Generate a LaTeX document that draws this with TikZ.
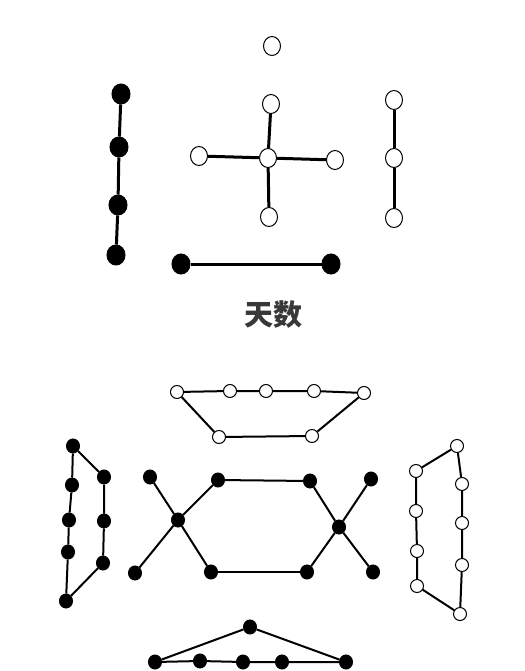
\documentclass[tikz,border=0pt]{standalone}
\usepackage{fontspec}
\newfontfamily\cjk{Noto Sans CJK SC}
\usetikzlibrary{shapes.geometric}
\definecolor{txtgray}{HTML}{383838}
\begin{document}
\begin{tikzpicture}[x=1pt, y=-1pt, line width=3pt,
	blk/.style = {draw, ellipse, fill=black, inner sep=0pt, line width=1pt, minimum width=18pt, minimum height=20pt},
	wht/.style = {draw, ellipse, fill=white, inner sep=0pt, line width=1pt, minimum width=17pt, minimum height=19pt},
	sblk/.style = {blk, minimum width=13pt, minimum height=14pt},
	swht/.style = {wht, minimum width=13pt, minimum height=13pt}]
		\useasboundingbox (0,0) rectangle (524,671);
		
		% top half
		\node[wht] (0) at (272,46) {};
		
		\node[blk] (1) at (121,94) {};
		\node[blk] (2) at (119,147) {};
		\node[blk] (3) at (118,205) {};
		\node[blk] (4) at (116,255) {};
		
		\node[wht] (5) at (271,104) {};
		\node[wht] (6) at (268,158) {};
		\node[wht] (7) at (199,156) {};
		\node[wht] (8) at (335,160) {};
		\node[wht] (9) at (269,217) {};
		
		\node[wht] (10) at (394,100) {};
		\node[wht] (11) at (394,158) {};
		\node[wht] (12) at (394,218) {};
		
		\node[blk] (13) at (181,264) {};
		\node[blk] (14) at (331,264) {};
		
		\node[text=txtgray, font=\cjk\bfseries\fontsize{29}{30}\selectfont] (title) at (273,315) {天数};
		
		\draw (1) -- (2);
		\draw (2) -- (3);
		\draw (3) -- (4);
		
		\draw (5) -- (6);
		\draw (6) -- (9);
		\draw (7) -- (6);
		\draw (6) -- (8);
		
		\draw (10) -- (11);
		\draw (11) -- (12);
		
		\draw (13) -- (14);
		
		% bottom half
		\begin{scope}[line width=2pt]
		\node[swht] (20) at (177,392) {};
		\node[swht] (21) at (230,391) {};
		\node[swht] (22) at (266,391) {};
		\node[swht] (23) at (314,391) {};
		\node[swht] (24) at (364,393) {};
		\node[swht] (25) at (219,437) {};
		\node[swht] (26) at (312,436) {};
		
		\node[sblk] (30) at (73,446) {};
		\node[sblk] (31) at (72,485) {};
		\node[sblk] (32) at (69,520) {};
		\node[sblk] (33) at (68,552) {};
		\node[sblk] (34) at (66,601) {};
		\node[sblk] (35) at (104,477) {};
		\node[sblk] (36) at (104,521) {};
		\node[sblk] (37) at (103,563) {};
		
		\node[sblk] (40) at (150,477) {};
		\node[sblk] (41) at (178,520) {};
		\node[sblk] (42) at (135,573) {};
		\node[sblk] (43) at (218,480) {};
		\node[sblk] (44) at (211,572) {};
		\node[sblk] (45) at (310,481) {};
		\node[sblk] (46) at (307,572) {};
		\node[sblk] (47) at (339,527) {};
		\node[sblk] (48) at (371,479) {};
		\node[sblk] (49) at (373,572) {};
		
		\node[swht] (50) at (457,446) {};
		\node[swht] (51) at (416,471) {};
		\node[swht] (52) at (416,511) {};
		\node[swht] (53) at (417,551) {};
		\node[swht] (54) at (417,586) {};
		\node[swht] (55) at (460,614) {};
		\node[swht] (56) at (462,484) {};
		\node[swht] (57) at (462,523) {};
		\node[swht] (58) at (462,565) {};
		
		\node[sblk] (60) at (250,627) {};
		\node[sblk] (61) at (155,662) {};
		\node[sblk] (62) at (200,661) {};
		\node[sblk] (63) at (243,662) {};
		\node[sblk] (64) at (282,662) {};
		\node[sblk] (65) at (346,662) {};
		
		\draw (20) -- (21) -- (22) -- (23) -- (24);
		\draw (20) -- (25);
		\draw (25) -- (26);
		\draw (26) -- (24);
		
		\draw (30) -- (31) -- (32) -- (33) -- (34);
		\draw (30) -- (35);
		\draw (35) -- (36) -- (37);
		\draw (37) -- (34);
		
		\draw (40) -- (41) -- (44);
		\draw (42) -- (41) -- (43);
		\draw (43) -- (45);
		\draw (44) -- (46);
		\draw (45) -- (47) -- (49);
		\draw (46) -- (47) -- (48);
		
		\draw (50) -- (51);
		\draw (51) -- (52) -- (53) -- (54);
		\draw (54) -- (55);
		\draw (50) -- (56) -- (57) -- (58) -- (55);
		
		\draw (61) -- (60);
		\draw (60) -- (65);
		\draw (61) -- (62) -- (63) -- (64) -- (65);
		\end{scope}
	\end{tikzpicture}
\end{document}
